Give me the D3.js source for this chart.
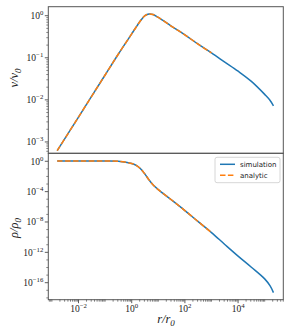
<!DOCTYPE html>
<html>
<head>
<meta charset="utf-8">
<script src="https://cdn.jsdelivr.net/npm/d3@7"></script>
<style>
  html, body { margin: 0; padding: 0; background: #fff; }
  svg text { font-family: "Liberation Serif", "DejaVu Serif", serif; }
</style>
</head>
<body>
<div id="chart-container"></div>
<script>
// values (r / r0 grid shared by both panels)
var rSim = [1.58e-3, 1e-2, 0.1, 0.316, 1, 1.58, 2.24, 3.16, 4.47, 6.31, 10, 31.6, 100, 316, 1000,
            3162, 1e4, 31623, 1e5, 1.58e5, 2.14e5];
var vSim = [6.2e-4, 3.9e-3, 3.9e-2, 0.123, 0.37, 0.575, 0.79, 1.0, 1.10, 1.07, 0.91, 0.56, 0.35, 0.21, 0.13,
            0.079, 0.048, 0.0275, 0.0135, 0.0098, 0.0072];
var rhoSim = [1.12, 1.12, 1.1, 1.0, 0.5, 0.25, 0.089, 0.02, 3.5e-3, 7.9e-4, 1.8e-4, 7.9e-6, 3.2e-7, 1.1e-8, 4e-10,
              1.1e-11, 3.2e-13, 1.1e-14, 3.2e-16, 4e-17, 5e-18];

var rAna = [1.58e-3, 1e-2, 0.1, 0.316, 1, 1.58, 2.24, 3.16, 4.47, 6.31, 10, 31.6, 100, 316, 1000];
var vAna = [6.2e-4, 3.9e-3, 3.9e-2, 0.123, 0.37, 0.575, 0.79, 1.0, 1.10, 1.07, 0.91, 0.56, 0.35, 0.21, 0.13];
var rhoAna = [1.12, 1.12, 1.1, 1.0, 0.5, 0.25, 0.089, 0.02, 3.5e-3, 7.9e-4, 1.8e-4, 7.9e-6, 3.2e-7, 1.1e-8, 4e-10];

var xMajor = [-2, 0, 2, 4];
var vMajor = [0, -1, -2, -3];
var rhoMajor = [0, -4, -8, -12, -16];
var legendLabels = ["simulation", "analytic"];

var blue = "#1f77b4", orange = "#ff7f0e";

var W = 291, H = 334;
var left = 48.3, right = 283.3;
var topA = [6.7, 153.3], botA = [153.3, 299.7];

var svg = d3.select("#chart-container")
    .append("svg")
    .attr("width", W)
    .attr("height", H);

var x = d3.scaleLog()
    .domain([Math.pow(10, -3.136), Math.pow(10, 5.70)])
    .range([left, right]);

var yV = d3.scaleLog()
    .domain([Math.pow(10, -3.27), Math.pow(10, 0.214)])
    .range([topA[1], topA[0]]);

var yRho = d3.scaleLog()
    .domain([Math.pow(10, -18.24), Math.pow(10, 1.05)])
    .range([botA[1], botA[0]]);

var supLabel = function (sel, e) {
    sel.append("tspan").text("10");
    sel.append("tspan")
        .attr("dy", -4)
        .style("font-size", "6.8px")
        .text(e < 0 ? "\u2212" + (-e) : "" + e);
};

// minor tick values for a log axis
var minorTicks = function (lo, hi, majors) {
    var out = [];
    for (var p = lo; p <= hi; p++) {
        if (majors.indexOf(p) < 0) out.push(Math.pow(10, p));
        for (var k = 2; k < 10; k++) out.push(k * Math.pow(10, p));
    }
    return out;
};

var drawPanel = function (yScale, yr, majors, minors, ySeries, yAna, label, labelY) {
    var g = svg.append("g");
    var clipId = "clip" + Math.round(yr[0]);
    g.append("clipPath").attr("id", clipId)
        .append("rect")
        .attr("x", left).attr("y", yr[0])
        .attr("width", right - left).attr("height", yr[1] - yr[0]);

    // y minor ticks
    g.selectAll(".ymin")
        .data(minors.filter(function (d) {
            var y = yScale(d); return y > yr[0] && y < yr[1];
        }))
        .enter().append("line")
        .attr("x1", left - 2).attr("x2", left)
        .attr("y1", function (d) { return yScale(d); })
        .attr("y2", function (d) { return yScale(d); })
        .attr("stroke", "#333").attr("stroke-width", 0.6);

    // y major ticks
    var maj = g.selectAll(".ymaj")
        .data(majors)
        .enter().append("g")
        .attr("transform", function (d) { return "translate(0," + yScale(Math.pow(10, d)) + ")"; });
    maj.append("line")
        .attr("x1", left - 3.5).attr("x2", left)
        .attr("stroke", "#333").attr("stroke-width", 0.8);
    maj.append("text")
        .attr("x", left - 5)
        .attr("y", 3.3)
        .attr("text-anchor", "end")
        .style("font-size", "9.5px")
        .attr("fill", "#222")
        .each(function (d) { supLabel(d3.select(this), d); });

    var line = d3.line()
        .x(function (d) { return x(d[0]); })
        .y(function (d) { return yScale(d[1]); })
        .curve(d3.curveCatmullRom.alpha(0.5));

    var lines = g.append("g").attr("clip-path", "url(#" + clipId + ")");
    lines.append("path")
        .datum(d3.zip(rSim, ySeries))
        .attr("d", line)
        .attr("fill", "none")
        .attr("stroke", blue)
        .attr("stroke-width", 1.5);
    lines.append("path")
        .datum(d3.zip(rAna, yAna))
        .attr("d", line)
        .attr("fill", "none")
        .attr("stroke", orange)
        .attr("stroke-width", 1.5)
        .attr("stroke-dasharray", "5.5,2.4");

    // frame
    g.append("rect")
        .attr("x", left).attr("y", yr[0])
        .attr("width", right - left).attr("height", yr[1] - yr[0])
        .attr("fill", "none")
        .attr("stroke", "#555")
        .attr("stroke-width", 1);

    svg.append("text")
        .attr("transform", "translate(18," + labelY + ") rotate(-90)")
        .attr("text-anchor", "middle")
        .style("font-size", "12.5px")
        .style("font-style", "italic")
        .attr("fill", "#222")
        .html(label);
};

drawPanel(yV, topA, vMajor, minorTicks(-4, 0, vMajor), vSim, vAna,
    'v/v<tspan dy="2.5" style="font-size:9px">0</tspan>', 78);
drawPanel(yRho, botA, rhoMajor, minorTicks(-18, 0, rhoMajor).filter(function (d) {
    return Math.abs(Math.log10(d) - Math.round(Math.log10(d))) < 1e-9;
}), rhoSim, rhoAna,
    '\u03c1/\u03c1<tspan dy="2.5" style="font-size:9px">0</tspan>', 228);

// x axis (shared, on bottom panel)
var xa = svg.append("g");
xa.selectAll(".xmin")
    .data(minorTicks(-4, 5, xMajor).filter(function (d) {
        var px = x(d); return px > left && px < right;
    }))
    .enter().append("line")
    .attr("x1", function (d) { return x(d); })
    .attr("x2", function (d) { return x(d); })
    .attr("y1", botA[1]).attr("y2", botA[1] + 2)
    .attr("stroke", "#333").attr("stroke-width", 0.6);
var xm = xa.selectAll(".xmaj")
    .data(xMajor)
    .enter().append("g")
    .attr("transform", function (d) { return "translate(" + x(Math.pow(10, d)) + "," + botA[1] + ")"; });
xm.append("line")
    .attr("y2", 3.5)
    .attr("stroke", "#333").attr("stroke-width", 0.8);
xm.append("text")
    .attr("y", 12.5)
    .attr("text-anchor", "middle")
    .style("font-size", "9.5px")
    .attr("fill", "#222")
    .each(function (d) { supLabel(d3.select(this), d); });

svg.append("text")
    .attr("x", 166).attr("y", 323)
    .attr("text-anchor", "middle")
    .style("font-size", "12.5px")
    .style("font-style", "italic")
    .attr("fill", "#222")
    .html('r/r<tspan dy="2.5" style="font-size:9px">0</tspan>');

// legend
var lg = svg.append("g").attr("transform", "translate(215,157.3)");
lg.append("rect")
    .attr("width", 65).attr("height", 25.4)
    .attr("rx", 2)
    .attr("fill", "#fff").attr("fill-opacity", 0.8)
    .attr("stroke", "#ccc").attr("stroke-width", 0.8);
var items = lg.selectAll(".item")
    .data(legendLabels)
    .enter().append("g")
    .attr("transform", function (d, i) { return "translate(0," + (7 + i * 11) + ")"; });
items.append("line")
    .attr("x1", 5).attr("x2", 20)
    .attr("stroke", function (d, i) { return i === 0 ? blue : orange; })
    .attr("stroke-width", 1.5)
    .attr("stroke-dasharray", function (d, i) { return i === 0 ? null : "5.5,2.4"; });
items.append("text")
    .attr("x", 25).attr("y", 2.5)
    .style("font-family", "'DejaVu Sans', sans-serif")
    .style("font-size", "7px")
    .attr("fill", "#222")
    .text(function (d) { return d; });
</script>
</body>
</html>
